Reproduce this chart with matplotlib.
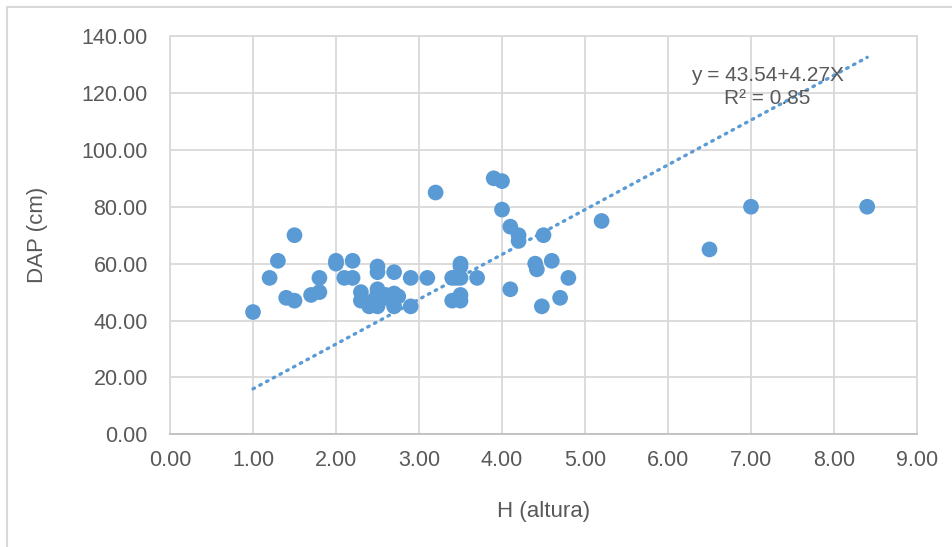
import matplotlib.pyplot as plt
from matplotlib.patches import Rectangle

# H (altura) vs DAP (cm)
altura = [1.0, 1.2, 1.3, 1.5, 1.4, 1.5, 1.7, 1.8, 1.8, 2.0, 2.0, 2.1, 2.2, 2.2,
          2.3, 2.3, 2.5, 2.5, 2.5, 2.5, 2.4, 2.5, 2.6, 2.7, 2.7, 2.7, 2.75,
          2.6, 2.45, 2.9, 2.9, 3.1, 3.2, 3.4, 3.4, 3.5, 3.5, 3.5, 3.5, 3.5,
          3.45, 3.7, 3.9, 4.0, 4.0, 4.1, 4.2, 4.2, 4.1, 4.4, 4.42, 4.5,
          4.48, 4.6, 4.7, 4.8, 5.2, 6.5, 7.0, 8.4]
dap = [43, 55, 61, 70, 48, 47, 49, 55, 50, 61, 60, 55, 55, 61,
       50, 47, 59, 57, 51, 49.5, 45, 45, 49, 57, 49.5, 45, 48.5,
       48, 47, 55, 45, 55, 85, 55, 47, 60, 59, 55, 49, 47,
       55, 55, 90, 89, 79, 73, 70, 68, 51, 60, 58, 70,
       45, 61, 48, 55, 75, 65, 80, 80]

# trend line as drawn on the chart
trend_x = [1.0, 8.4]
trend_y = [16.0, 132.5]
eq_text = "y = 43.54+4.27X\nR² = 0.85"

xticks = [0, 1, 2, 3, 4, 5, 6, 7, 8, 9]
yticks = [0, 20, 40, 60, 80, 100, 120, 140]

blue = "#5B9BD5"
txt = "#595959"
grid = "#D9D9D9"

plt.rcParams['font.family'] = ['Liberation Sans', 'DejaVu Sans']

fig = plt.figure(figsize=(9.53, 5.47), dpi=100)
fig.patches.append(Rectangle((7 / 953, -0.1), 1.2, 1.1 - 7 / 547, transform=fig.transFigure,
                             fill=False, edgecolor=grid, linewidth=1.5))
ax = fig.add_axes([170 / 953, (547 - 434.4) / 547, (917 - 170) / 953, (434.4 - 36) / 547])

ax.plot(trend_x, trend_y, color=blue, linewidth=2.4, linestyle=(0, (0.5, 1.8)),
        dash_capstyle='round', zorder=3)
ax.scatter(altura, dap, s=128, color=blue, edgecolors='none', zorder=2)

ax.set_xlim(0, 9)
ax.set_ylim(0, 140)
ax.set_xticks(xticks)
ax.set_yticks(yticks)
ax.set_xticklabels([f"{v:.2f}" for v in xticks])
ax.set_yticklabels([f"{v:.2f}" for v in yticks])
ax.tick_params(length=0, labelsize=15.5, colors=txt)
ax.tick_params(axis='y', pad=16)
ax.tick_params(axis='x', pad=11)
ax.grid(True, color=grid, linewidth=1.3)
ax.set_axisbelow(True)
for sp in ax.spines.values():
    sp.set_color(grid)
    sp.set_linewidth(1.3)
ax.spines['bottom'].set_color("#BFBFBF")

ax.set_xlabel("H (altura)", fontsize=16, color=txt, labelpad=22)
ax.set_ylabel("DAP (cm)", fontsize=16, color=txt, labelpad=24)

ax.text(7.2, 122, eq_text, fontsize=15, color=txt, ha='center', va='center',
        linespacing=1.25, zorder=4)

fig.savefig("out.png", dpi=100)
